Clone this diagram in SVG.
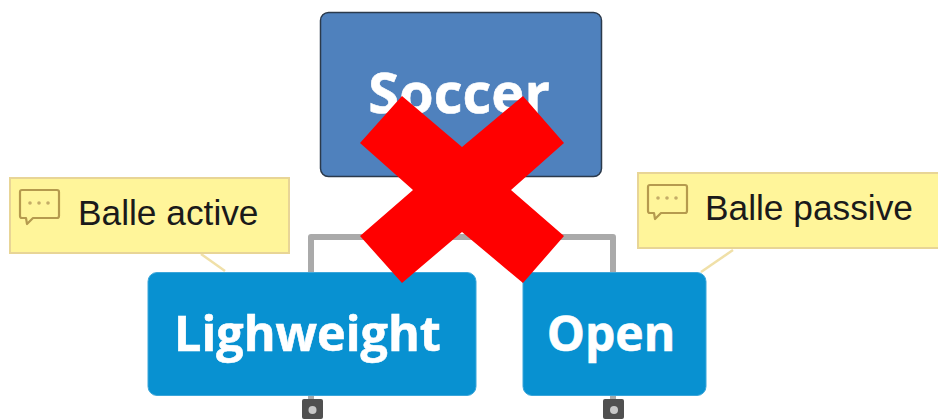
<svg xmlns="http://www.w3.org/2000/svg" width="938" height="419" viewBox="0 0 938 419">
<style>
.topic{fill:#0891d1;stroke:#3ba6da;stroke-width:1}
.t{font-family:"Open Sans","Noto Sans",sans-serif;font-weight:700;fill:#fff;text-anchor:middle;stroke:#fff;stroke-width:.6}
.note{fill:#fff59a;stroke:#e8d596;stroke-width:2}
.n{font-family:"Liberation Sans",Arial,sans-serif;font-size:35.300px;fill:#1a1a1a}
.lead{fill:none;stroke:#f0e0a8;stroke-width:2.500}
.conn{fill:none;stroke:#aaaaaa;stroke-width:6;stroke-linejoin:round}
.ic{fill:#fff59a;stroke:#b59a4e;stroke-width:2.200;stroke-linejoin:round}
.dot{fill:#c4ad68}
.box{fill:#505050}
.boxdot{fill:#c8c8c8}
</style>
<defs>
<g id="bubble">
<path class="ic" d="M3 0H38Q40 0 40 2V26Q40 28 38 28H14L8 34L7 28H3Q1 28 1 26V2Q1 0 3 0Z"/>
<circle class="dot" cx="11" cy="13" r="1.800"/><circle class="dot" cx="20" cy="13" r="1.800"/><circle class="dot" cx="29" cy="13" r="1.800"/>
</g>
</defs>
<g id="connectors">
<path class="conn" d="M311 272V237H613V272"/>
<path class="conn" d="M311 394V402M613 394V402"/>
<path class="lead" d="M201 254L225 271"/>
<path class="lead" d="M733 250L701 272"/>
</g>
<g id="node-soccer">
<rect x="320.500" y="12.500" width="281" height="164" rx="8" fill="#4f81bd" stroke="#2b3a4c" stroke-width="1.500"/>
<text class="t" x="459" y="113" font-size="56">Soccer</text>
</g>
<g id="node-lightweight">
<rect class="topic" x="148" y="272.500" width="328" height="123" rx="9"/>
<text class="t" x="307.500" y="351" font-size="48.500">Lighweight</text>
<rect class="box" x="302" y="399" width="21" height="20" rx="2"/>
<circle class="boxdot" cx="312.500" cy="410" r="4"/>
</g>
<g id="node-open">
<rect class="topic" x="523" y="272.500" width="183" height="123" rx="9"/>
<text class="t" x="611" y="351" font-size="48">Open</text>
<rect class="box" x="603" y="399" width="21" height="20" rx="2"/>
<circle class="boxdot" cx="614" cy="410" r="4"/>
</g>
<g id="note-active">
<rect class="note" x="10" y="178" width="279" height="75"/>
<use href="#bubble" x="19" y="190"/>
<text class="n" x="78" y="225">Balle active</text>
</g>
<g id="note-passive">
<rect class="note" x="638" y="173" width="302" height="75"/>
<use href="#bubble" x="647" y="185"/>
<text class="n" x="705" y="220">Balle passive</text>
</g>
<polygon id="cross" fill="#ff0000" points="402,96 462,147 523,96 564,143 511,190 564,236 523,283 462,232 402,283 360,236 413,190 360,143"/>
</svg>
